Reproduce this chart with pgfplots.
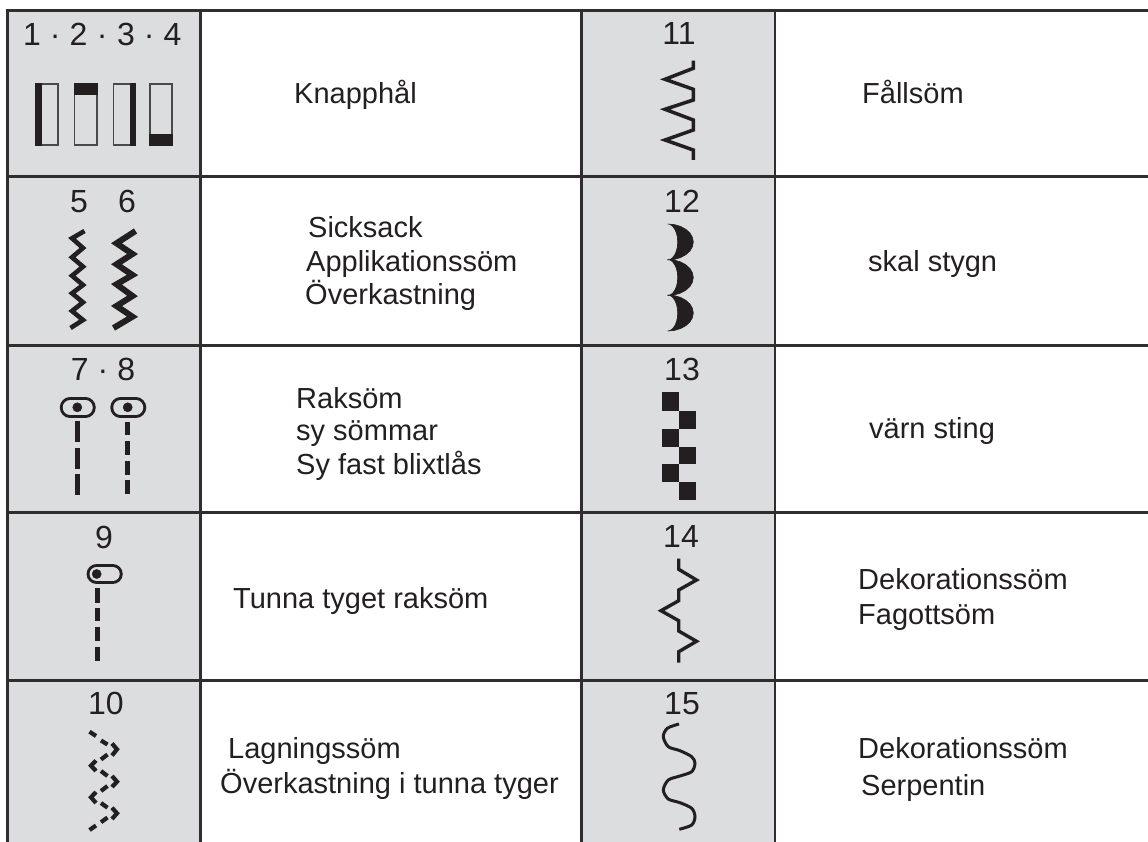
\documentclass[border=0pt]{standalone}
\usepackage{pgfplots}
\pgfplotsset{compat=1.18}
\usepackage{pgfplotstable}
\usepackage{fontspec}
\setmainfont{Liberation Sans}
\definecolor{ink}{HTML}{231F20}
\definecolor{rule}{HTML}{2F2D2E}
\definecolor{cell}{HTML}{DCDDDF}
\definecolor{frame}{HTML}{4A4849}
\pgfplotstableread{
x y
667.7 224
674.3 224.6
680.5 226.4
685.8 229.3
689.9 233
692.4 237.3
693.3 242
692.4 246.7
689.9 251
685.8 254.7
680.5 257.6
674.3 259.4
667.7 260
670.3 259.4
672.7 257.6
674.8 254.7
676.4 251
677.4 246.7
677.7 242
677.4 237.3
676.4 233
674.8 229.3
672.7 226.4
670.3 224.6
}\crescent
\newcommand{\txt}[3]{\node[anchor=base west,inner sep=0pt,text=ink,font=\fontsize{29}{34}\selectfont] at (axis cs:#1,#2) {#3};}
\newcommand{\num}[3]{\node[anchor=base,inner sep=0pt,text=ink,font=\fontsize{32}{36}\selectfont] at (axis cs:#1,#2) {#3};}
\begin{document}
\begin{tikzpicture}
\begin{axis}[
  width=1148pt,height=842pt,scale only axis,
  xmin=0,xmax=1148,ymin=0,ymax=842,y dir=reverse,
  hide axis,clip=true,
]
% background and grey columns
\addplot[fill=white,draw=none] coordinates {(0,0)(1148,0)(1148,842)(0,842)};
\addplot[fill=cell,draw=none] coordinates {(7,10)(200,10)(200,842)(7,842)};
\addplot[fill=cell,draw=none] coordinates {(582,10)(775,10)(775,842)(582,842)};
% table rules
\addplot[rule,line width=3.2pt] coordinates {(6.5,10.5)(1148,10.5)};
\addplot[rule,line width=3pt] coordinates {(6.5,177)(1148,177)};
\addplot[rule,line width=3pt] coordinates {(6.5,345)(1148,345)};
\addplot[rule,line width=3pt] coordinates {(6.5,512.3)(1148,512.3)};
\addplot[rule,line width=3pt] coordinates {(6.5,680)(1148,680)};
\addplot[rule,line width=2.8pt] coordinates {(7.7,9)(7.7,842)};
\addplot[rule,line width=2.8pt] coordinates {(200.7,9)(200.7,842)};
\addplot[rule,line width=2.8pt] coordinates {(581.7,9)(581.7,842)};
\addplot[rule,line width=2.8pt] coordinates {(775,9)(775,842)};
% stitches 1-4
\addplot[frame,line width=1.8pt] coordinates {(35.9,83.9)(58.1,83.9)(58.1,145.1)(35.9,145.1)(35.9,83)};
\addplot[frame,line width=1.8pt] coordinates {(74.4,83.9)(96.6,83.9)(96.6,145.1)(74.4,145.1)(74.4,83)};
\addplot[frame,line width=1.8pt] coordinates {(113.4,83.9)(135.1,83.9)(135.1,145.1)(113.4,145.1)(113.4,83)};
\addplot[frame,line width=1.8pt] coordinates {(149.6,83.9)(171.6,83.9)(171.6,145.1)(149.6,145.1)(149.6,83)};
\addplot[fill=ink,draw=none] coordinates {(35,83)(42,83)(42,146)(35,146)};
\addplot[fill=ink,draw=none] coordinates {(73.5,83)(97.5,83)(97.5,95)(73.5,95)};
\addplot[fill=ink,draw=none] coordinates {(129.5,83)(136,83)(136,146)(129.5,146)};
\addplot[fill=ink,draw=none] coordinates {(148.7,134.5)(172.5,134.5)(172.5,146)(148.7,146)};
% stitch 5, 6
\addplot[ink,line width=4.6pt,miter limit=10] coordinates {(84.5,231)(72,238.3)(83,248)(72,257.3)(83,266.7)(72,275.7)(83,285)(72,293.3)(83,302.3)(72,311)(83,320)(70.5,328)};
\addplot[ink,line width=6pt,miter limit=10] coordinates {(135.5,231)(116.5,243.3)(132.5,254)(116.5,264.3)(132.5,275)(116.5,284.3)(132.5,296)(116.5,306)(132.5,316.7)(113.5,328)};
% stitch 7
\addplot[ink,line width=20.5pt,line cap=round] coordinates {(70,407.5)(85.5,407.5)};
\addplot[cell,line width=14.5pt,line cap=round] coordinates {(70,407.5)(85.5,407.5)};
\addplot[only marks,mark=*,mark size=4.6pt,ink] coordinates {(77.3,407.3)};
\addplot[ink,line width=5.4pt] coordinates {(77.3,421)(77.3,442)};
\addplot[ink,line width=5.4pt] coordinates {(77.3,448)(77.3,469)};
\addplot[ink,line width=5.4pt] coordinates {(77.3,474)(77.3,495)};
% stitch 8
\addplot[ink,line width=20.5pt,line cap=round] coordinates {(120.5,407.5)(136,407.5)};
\addplot[cell,line width=14.5pt,line cap=round] coordinates {(120.5,407.5)(136,407.5)};
\addplot[only marks,mark=*,mark size=4.6pt,ink] coordinates {(127.7,407.3)};
\addplot[ink,line width=5.4pt] coordinates {(127.5,422)(127.5,435)};
\addplot[ink,line width=5.4pt] coordinates {(127.5,441)(127.5,455)};
\addplot[ink,line width=5.4pt] coordinates {(127.5,461)(127.5,475)};
\addplot[ink,line width=5.4pt] coordinates {(127.5,480)(127.5,494)};
% stitch 9
\addplot[ink,line width=20.5pt,line cap=round] coordinates {(96.8,574)(112.5,574)};
\addplot[cell,line width=14.5pt,line cap=round] coordinates {(96.8,574)(112.5,574)};
\addplot[only marks,mark=*,mark size=4.6pt,ink] coordinates {(96.7,574)};
\addplot[ink,line width=5.4pt] coordinates {(97.3,588)(97.3,603)};
\addplot[ink,line width=5.4pt] coordinates {(97.3,607.5)(97.3,620.5)};
\addplot[ink,line width=5.4pt] coordinates {(97.3,626.5)(97.3,640.5)};
\addplot[ink,line width=5.4pt] coordinates {(97.3,646.5)(97.3,660.5)};
% stitch 10
\addplot[ink,line width=4.2pt] coordinates {(89.5,731.7)(96,736)};
\addplot[ink,line width=4.2pt] coordinates {(101,740.5)(107.5,744.5)};
\addplot[ink,line width=4.2pt,miter limit=10] coordinates {(112,743.5)(117,749.3)(112,755.5)};
\addplot[ink,line width=4.2pt] coordinates {(107.5,754.5)(101,759.5)};
\addplot[ink,line width=4.2pt,miter limit=10] coordinates {(96,760.5)(91,765.7)(96,771)};
\addplot[ink,line width=4.2pt] coordinates {(101,771)(107.5,776)};
\addplot[ink,line width=4.2pt,miter limit=10] coordinates {(112,776)(117,781.7)(112,787)};
\addplot[ink,line width=4.2pt] coordinates {(107.5,786)(101,791)};
\addplot[ink,line width=4.2pt,miter limit=10] coordinates {(96,792)(91,797.3)(96,803)};
\addplot[ink,line width=4.2pt] coordinates {(101,803)(107.5,807.7)};
\addplot[ink,line width=4.2pt,miter limit=10] coordinates {(112,807.7)(117,813.3)(112,819)};
\addplot[ink,line width=4.2pt] coordinates {(107.5,817.5)(101,822.2)};
\addplot[ink,line width=4.2pt] coordinates {(96,825.5)(89.5,830)};
% stitch 11
\addplot[ink,line width=3.5pt] coordinates {(693.3,60.7)(693.3,68.3)(665,79.3)(693.3,89.3)(693.3,100)(665,109.3)(693.3,120)(693.3,130)(665,140)(693.3,150)(693.3,160)};
% stitch 12
\addplot[fill=ink,draw=ink,line width=0.6pt] table[x=x,y expr=\thisrow{y}] {\crescent};
\addplot[fill=ink,draw=ink,line width=0.6pt] table[x=x,y expr=\thisrow{y}+35.5] {\crescent};
\addplot[fill=ink,draw=ink,line width=0.6pt] table[x=x,y expr=\thisrow{y}+71] {\crescent};
% stitch 13
\addplot[fill=ink,draw=none] coordinates {(662,392)(679,392)(679,410.7)(662,410.7)};
\addplot[fill=ink,draw=none] coordinates {(679,410.7)(695.7,410.7)(695.7,428.7)(679,428.7)};
\addplot[fill=ink,draw=none] coordinates {(662,428.7)(679,428.7)(679,446.7)(662,446.7)};
\addplot[fill=ink,draw=none] coordinates {(679,446.7)(695.7,446.7)(695.7,464.3)(679,464.3)};
\addplot[fill=ink,draw=none] coordinates {(662,464.3)(679,464.3)(679,482.3)(662,482.3)};
\addplot[fill=ink,draw=none] coordinates {(679,482.3)(695.7,482.3)(695.7,500.3)(679,500.3)};
% stitch 14
\addplot[ink,line width=3.4pt] coordinates {(678.7,558.7)(678.7,569.3)(696.5,580)(678.7,590)(678.7,600.7)(661,610.7)(678.7,620.7)(678.7,631)(696.5,641.3)(678.7,651.7)(678.7,662.7)};
% stitch 15
\addplot[ink,line width=3pt,smooth] coordinates {(679,724)(667.3,728.3)(663.3,736.7)(668.3,746.7)(680,750.7)(691.7,756.7)(695,763.3)(691.7,771.7)(680,776)(668.3,780)(663.3,790)(668.3,799)(680,802.7)(691.7,808.3)(695,816.7)(691.7,825)(679.3,829.3)};
% numbers
\node[anchor=base west,inner sep=0pt,text=ink,font=\fontsize{32}{36}\selectfont] at (axis cs:23,46) {1\hspace{9pt}·\hspace{9pt}2\hspace{9.5pt}·\hspace{9.5pt}3\hspace{9pt}·\hspace{9pt}4};
\num{79}{213}{5}\num{127}{213}{6}
\node[anchor=base,inner sep=0pt,text=ink,font=\fontsize{32}{36}\selectfont] at (axis cs:103,380) {7\hspace{9pt}·\hspace{9pt}8};
\num{104}{548}{9}
\num{106}{714}{10}
\num{679}{45}{11}
\num{682}{213}{12}
\num{682}{380}{13}
\num{681}{547}{14}
\num{682}{714}{15}
% descriptions
\txt{294}{104}{Knapphål}
\txt{308}{238}{Sicksack}
\txt{306}{272}{Applikationssöm}
\txt{305}{305}{Överkastning}
\txt{296}{408}{Raksöm}
\txt{296}{440}{sy sömmar}
\txt{296}{474}{Sy fast blixtlås}
\txt{233}{608}{Tunna tyget raksöm}
\txt{228}{758}{Lagningssöm}
\txt{220}{793}{Överkastning i tunna tyger}
\txt{862}{104}{Fållsöm}
\txt{868}{272}{skal stygn}
\txt{869}{438.5}{värn sting}
\txt{858}{589}{Dekorationssöm}
\txt{858}{624}{Fagottsöm}
\txt{858}{758}{Dekorationssöm}
\txt{861}{795}{Serpentin}
\end{axis}
\end{tikzpicture}
\end{document}
